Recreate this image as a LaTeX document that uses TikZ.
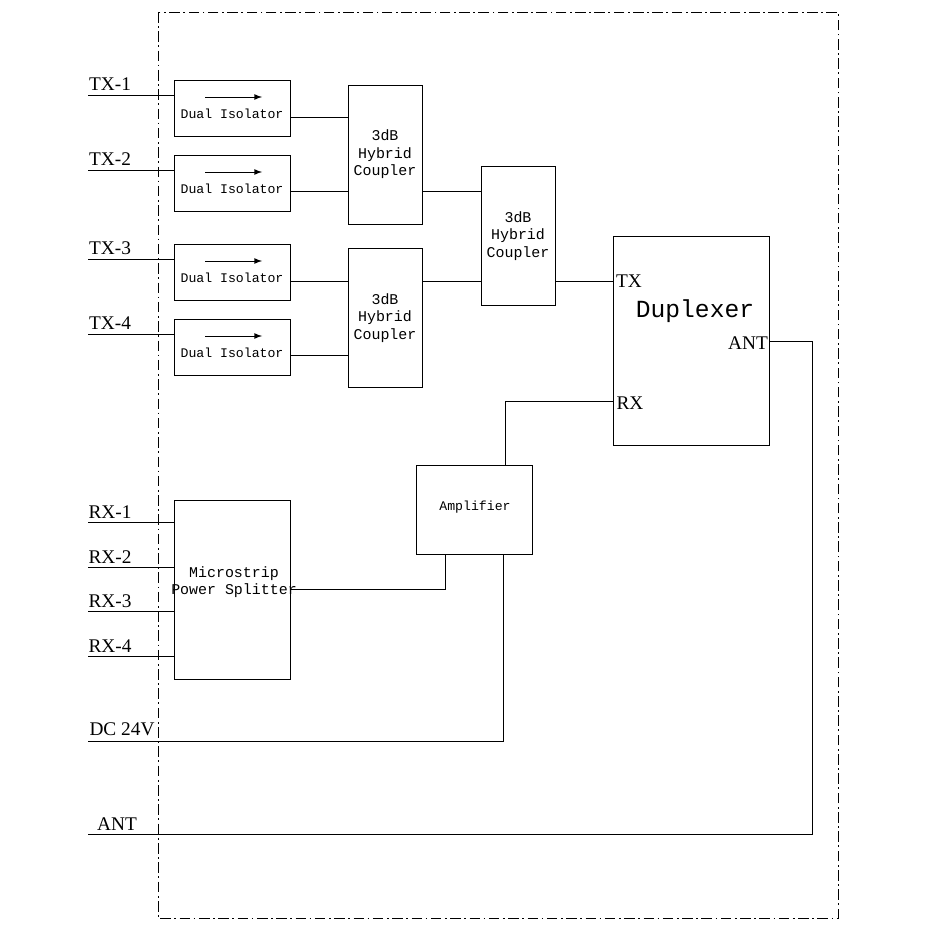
\documentclass[tikz,border=0pt]{standalone}
\usepackage{fontspec}
\setmainfont{Liberation Serif}
\newfontfamily\boxfont{Liberation Mono}
\begin{document}
\begin{tikzpicture}[x=0.02cm,y=-0.02cm,line width=0.5pt]
  \tikzstyle{blk} = [draw, rectangle, inner sep=0pt, align=center, font=\boxfont\fontsize{7.5}{9}\selectfont]
  \tikzstyle{iso} = [blk, minimum width=2.32cm, minimum height=1.12cm]
  \tikzstyle{hyb} = [blk, minimum width=1.48cm, minimum height=2.78cm, font=\boxfont\fontsize{8.5}{10}\selectfont]
  \tikzstyle{lbl} = [inner sep=0pt, font=\fontsize{11}{12}\selectfont]
  \useasboundingbox (0,0) rectangle (947,929);
  \draw[dash pattern=on 6pt off 2pt on 1pt off 2pt, line width=0.4pt] (158,12) rectangle (838,918);
  % isolators
  \foreach \n/\y in {1/108,2/183,3/272,4/347}{
    \node[iso] (iso\n) at (232,\y) {};
    \node[blk, draw=none] at (232,\y+6) {Dual Isolator};
    \draw[-latex] (205,\y-11) -- (262,\y-11);
    \coordinate (tx\n) at (88,\y-13);
    \draw (tx\n) -- (tx\n -| iso\n.west);
    \node[lbl] at (110,\y-24) {TX-\n};
  }
  % couplers
  \node[hyb] (cp1) at (385,154.5) {3dB\\Hybrid\\Coupler};
  \node[hyb] (cp3) at (385,318) {3dB\\Hybrid\\Coupler};
  \node[hyb] (cp2) at (518,236) {3dB\\Hybrid\\Coupler};
  \node[draw, rectangle, minimum width=3.12cm, minimum height=4.18cm] (dup) at (691,340.5) {};
  \node[lbl, font=\boxfont\fontsize{14}{16}\selectfont] at (695,311) {Duplexer};
  \node[lbl] at (629,281) {TX};
  \node[lbl] at (748,343) {ANT};
  \node[lbl] at (630,403) {RX};
  \node[blk, minimum width=2.32cm, minimum height=1.78cm] (amp) at (474,509.5) {};
  \node[blk, draw=none] at (475,507) {Amplifier};
  \node[blk, minimum width=2.32cm, minimum height=3.58cm] (spl) at (232,589.5) {};
  \node[blk, draw=none, font=\boxfont\fontsize{8.5}{10}\selectfont] at (234,582) {Microstrip\\Power Splitter};
  % links
  \draw (290,117) -- (cp1.west |- 290,117);
  \draw (290,191) -- (cp1.west |- 290,191);
  \draw (290,281) -- (cp3.west |- 290,281);
  \draw (290,355) -- (cp3.west |- 290,355);
  \draw (cp1.east |- 0,191) -- (cp2.west |- 0,191);
  \draw (cp3.east |- 0,281) -- (cp2.west |- 0,281);
  \draw (cp2.east |- 0,281) -- (dup.west |- 0,281);
  \draw (dup.west |- 0,401) -| (amp.north -| 505,0);
  \draw (spl.east |- 0,589) -| (amp.south -| 445,0);
  % rx inputs
  \foreach \n/\y in {1/522,2/567,3/611,4/656}{
    \coordinate (rx\n) at (88,\y);
    \draw (rx\n) -- (rx\n -| spl.west);
    \node[lbl] at (110,\y-10) {RX-\n};
  }
  \coordinate (dc) at (88,741);
  \draw (dc) -| (amp.south -| 503,0);
  \node[lbl] at (122,729) {DC 24V};
  \coordinate (ant) at (88,834);
  \draw (dup.east |- 0,341) -- (812,341) |- (ant);
  \node[lbl] at (117,824) {ANT};
\end{tikzpicture}
\end{document}
